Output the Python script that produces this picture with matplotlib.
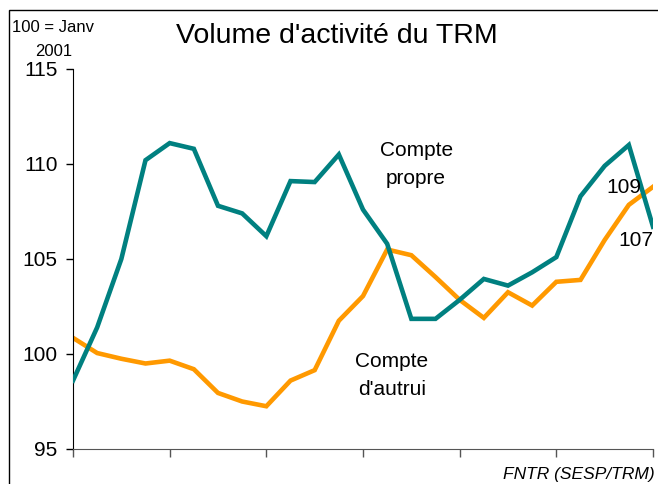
import numpy as np
import matplotlib.pyplot as plt
from matplotlib.patches import Rectangle

plt.rcParams['font.family'] = ['Liberation Sans', 'DejaVu Sans']

# Indices (100 = janvier 2001), 25 points
compte_propre = [98.6, 101.4, 105.0, 110.2, 111.1, 110.8, 107.8, 107.4, 106.2,
                 109.1, 109.05, 110.5, 107.6, 105.8, 101.85, 101.85, 102.85,
                 103.95, 103.6, 104.3, 105.1, 108.3, 109.9, 111.0, 106.7]
compte_autrui = [100.85, 100.05, 99.75, 99.5, 99.65, 99.2, 97.95, 97.5, 97.25,
                 98.6, 99.15, 101.75, 103.05, 105.5, 105.2, 104.05, 102.85,
                 101.9, 103.25, 102.55, 103.8, 103.9, 106.0, 107.85, 108.8]
y_ticks = [95, 100, 105, 110, 115]

teal = '#008080'
orange = '#FF9900'

fig = plt.figure(figsize=(6.58, 4.84), dpi=100)
ax = fig.add_axes([73 / 658, 35 / 484, 580 / 658, 380 / 484])

x = np.arange(len(compte_propre))
ax.plot(x, compte_autrui, color=orange, lw=3.3, solid_joinstyle='miter', zorder=2)
ax.plot(x, compte_propre, color=teal, lw=3.3, solid_joinstyle='miter', zorder=3)

ax.set_xlim(0, len(x) - 1)
ax.set_ylim(95, 115)
ax.set_xticks(np.arange(0, len(x), 4))
ax.set_xticklabels([])
ax.set_yticks(y_ticks)
ax.tick_params(axis='y', labelsize=15, length=5, width=1, direction='out', pad=6)
ax.tick_params(axis='x', length=6, width=1, direction='out', color='#555555')
for s in ['top', 'right']:
    ax.spines[s].set_visible(False)
ax.spines['bottom'].set_color('#555555')
ax.spines['left'].set_color('black')

ax.text(len(x) - 1.5, 108.75, '109', fontsize=15, ha='right', va='center')
ax.text(len(x) - 1, 105.95, '107', fontsize=15, ha='right', va='center', zorder=4)
ax.text(14.2, 109.95, 'Compte\npropre', fontsize=15, ha='center', va='center',
        linespacing=1.6)
ax.text(13.2, 98.85, "Compte\nd'autrui", fontsize=15, ha='center', va='center',
        linespacing=1.6)

fig.text(337 / 658, 1 - 36 / 484, "Volume d'activité du TRM", fontsize=20.5,
         ha='center', va='center')
fig.text(12 / 658, 1 - 28 / 484, '100 = Janv', fontsize=12, ha='left', va='center')
fig.text(54 / 658, 1 - 52 / 484, '2001', fontsize=12, ha='center', va='center')
fig.text(655 / 658, 1 - 475 / 484, 'FNTR (SESP/TRM)', fontsize=12.5,
         style='italic', ha='right', va='center')

fig.patches.append(Rectangle((8.5 / 658, -0.1), 1.2, 1 + 0.1 - 10.5 / 484,
                             transform=fig.transFigure, fill=False,
                             edgecolor='black', lw=1))

fig.savefig('out.png', dpi=100)
